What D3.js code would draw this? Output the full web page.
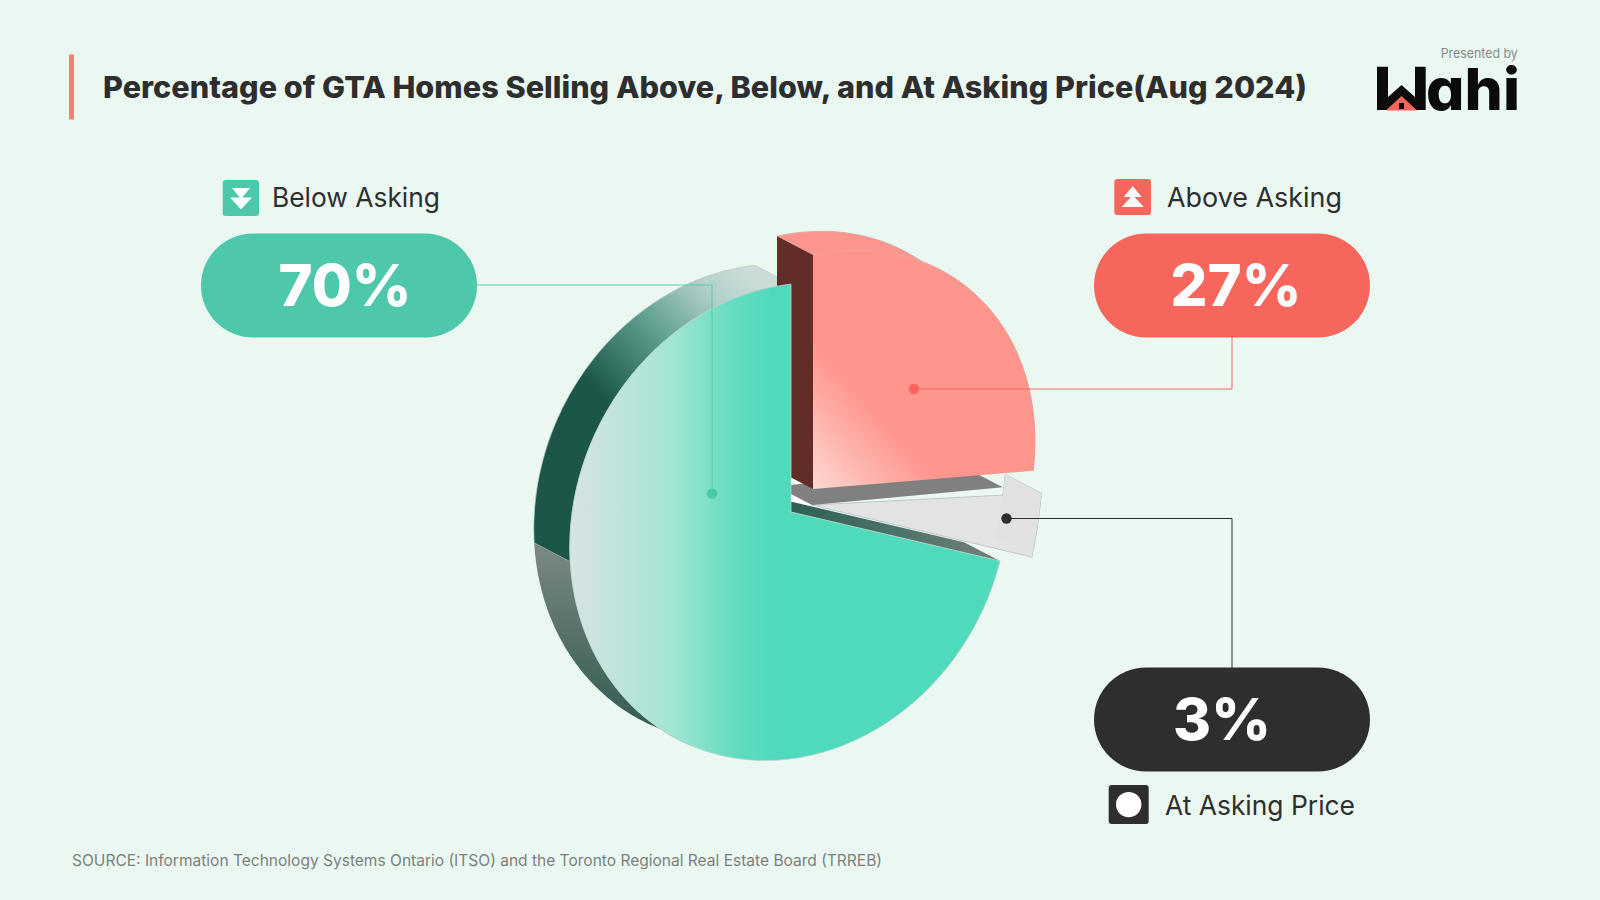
<!DOCTYPE html>
<html><head><meta charset="utf-8">
<script src="https://cdn.jsdelivr.net/npm/d3@7/dist/d3.min.js"></script>
<style>html,body{margin:0;padding:0;background:#ebf8f2}svg{display:block}text{font-family:Inter,"Noto Sans",sans-serif}</style>
</head><body><div id="chart"></div>
<script>
const titleText = "Percentage of GTA Homes Selling Above, Below, and At Asking Price(Aug 2024)";
const sourceText = "SOURCE: Information Technology Systems Ontario (ITSO) and the Toronto Regional Real Estate Board (TRREB)";
const categories = ["Above Asking", "At Asking Price", "Below Asking"];
const values = [27, 3, 70];

const svg = d3.select("#chart").append("svg").attr("width",1600).attr("height",900);
svg.append("rect").attr("width",1600).attr("height",900).attr("fill","#ebf8f2");
const defs = svg.append("defs");
function grad(id,x1,y1,x2,y2,stops){
  const g=defs.append("linearGradient").attr("id",id).attr("gradientUnits","userSpaceOnUse")
    .attr("x1",x1).attr("y1",y1).attr("x2",x2).attr("y2",y2);
  stops.forEach(s=>g.append("stop").attr("offset",s[0]).attr("stop-color",s[1]));
}
grad("gFace",570,0,772,0,[[0,"#d7e3e3"],[.5,"#a3e5d3"],[.8,"#66dcc0"],[1,"#4fdabc"]]);
grad("gWallUp",735,262,596,392,[[0,"#c9dcd8"],[.2,"#b3d0ca"],[.55,"#5f9f90"],[1,"#1b5648"]]);
grad("gWallLow",0,541,0,735,[[0,"#7c8a87"],[.5,"#567068"],[1,"#2f5c52"]]);
grad("gRadial",791,0,1000,0,[[0,"#2f5f53"],[.5,"#4c7269"],[1,"#767f7c"]]);
grad("rFace",813,489,886,422,[[0,"#ffd8d4"],[.55,"#ffb3ac"],[1,"#ff968e"]]);

// 3D projection: each slice has its own apex and face axes
const depth=[-36,-18.8];
const proj={
  "Below Asking":{o:[791,512],A:[219,-25.7],B:[0,-237],g:.009,h:.04},
  "Above Asking":{o:[813,489],A:[222,-48],B:[0,-234],g:0,h:0},
  "At Asking Price":{o:[812,505],A:[231,-54.4],B:[0,-336],g:0,h:0}
};
function P(c,r,t,back){
  const u=r*Math.sin(t),v=r*Math.cos(t),w=1+c.g*u+c.h*v;
  const d=back?1:0;
  return [c.o[0]+(c.A[0]*u+c.B[0]*v)/w+d*depth[0], c.o[1]+(c.A[1]*u+c.B[1]*v)/w+d*depth[1]];
}
const N=90;
const ang=(a,b)=>d3.range(N+1).map(i=>a+(b-a)*i/N);
const line=d3.line();
const closed=pts=>line(pts)+"Z";
const face=(c,a,b)=>closed([P(c,0,0),...ang(a,b).map(t=>P(c,1,t))]);
const band=(c,a,b)=>closed([...ang(a,b).map(t=>P(c,1,t)),...ang(b,a).map(t=>P(c,1,t,true))]);
const radial=(c,t,r=1,dt=0)=>closed([P(c,0,0),P(c,r,t+dt),P(c,r,t+dt,true),P(c,0,0,true)]);

const arcs=d3.pie().sort(null).value(d=>d)(values);
const slice=name=>arcs[categories.indexOf(name)];
const G=proj["Below Asking"],R=proj["Above Asking"],S=proj["At Asking Price"];
const ga=slice("Below Asking"),ra=slice("Above Asking"),sa=slice("At Asking Price");
const pie=svg.append("g");
const rim="#b7c8c3";
const rad=d=>d*Math.PI/180;
const split=rad(264.3);
// green outer wall
pie.append("path").attr("d",band(G,split,ga.endAngle)).attr("fill","url(#gWallUp)").attr("stroke",rim).attr("stroke-width",.7);
pie.append("path").attr("d",band(G,rad(205),split)).attr("fill","url(#gWallLow)");
// white core behind the slices
pie.append("path").attr("d",closed([P(R,0,0,true),P(R,0,0),P(S,0,0),P(G,0,0)])).attr("fill","#ffffff");
// green radial wall
pie.append("path").attr("d",radial(G,ga.startAngle)).attr("fill","url(#gRadial)");
// grey slice
pie.append("path").attr("d",band(S,sa.startAngle,sa.endAngle)).attr("fill","#e1e1e2").attr("stroke","#b4bfbe").attr("stroke-width",1);
pie.append("path").attr("d",face(S,sa.startAngle,sa.endAngle)).attr("fill","#e3e3e4").attr("stroke","#b4bfbe").attr("stroke-width",.8);
pie.append("path").attr("d",band(S,sa.startAngle,sa.endAngle)).attr("fill","#e1e1e2");
pie.append("path").attr("d",radial(S,sa.startAngle,.83,-rad(1.6))).attr("fill","#808080");
// red slice
pie.append("path").attr("d",band(R,ra.startAngle,ra.endAngle)).attr("fill","#ff968e").attr("stroke","#c9a9a4").attr("stroke-width",.8);
pie.append("path").attr("d",radial(R,ra.startAngle)).attr("fill","#622c28");
pie.append("path").attr("d",face(R,ra.startAngle,ra.endAngle)).attr("fill","url(#rFace)");
// green face
pie.append("path").attr("d",face(G,ga.startAngle,ga.endAngle)).attr("fill","url(#gFace)").attr("stroke","#b7d3cb").attr("stroke-width",.8);

// callouts
const pills={"Below Asking":{x:201,y:233.5,fill:"#4ec8aa",tx:345,line:[[477,285],[712,285],[712,493.5]],lc:"#4fcdae",dot:"#4cc9a9"},
 "Above Asking":{x:1094,y:233.5,fill:"#f6665c",tx:1236,line:[[914,389],[1232,389],[1232,337]],lc:"#f6665c",dot:"#f6665c"},
 "At Asking Price":{x:1094,y:667.5,fill:"#2e2e2e",tx:1222,line:[[1006.5,518.5],[1232,518.5],[1232,668]],lc:"#2e2e2e",dot:"#2e2e2e"}};
categories.forEach((c,i)=>{
  const p=pills[c];
  svg.append("path").attr("d",line(p.line)).attr("fill","none").attr("stroke",p.lc).attr("stroke-width",1);
  const e=c==="Above Asking"?p.line[0]:c==="At Asking Price"?p.line[0]:p.line[2];
  svg.append("circle").attr("cx",e[0]).attr("cy",e[1]).attr("r",5.2).attr("fill",p.dot);
  svg.append("rect").attr("x",p.x).attr("y",p.y).attr("width",276).attr("height",104).attr("rx",52).attr("fill",p.fill);
  svg.append("text").attr("x",p.tx).attr("y",p.y+72.5).attr("text-anchor","middle").attr("fill","#fff")
    .attr("font-size",58).attr("font-weight",800).text(values[i]+"%");
});

// legend labels + icons
function label(t,x,y,w){svg.append("text").attr("x",x).attr("y",y).attr("font-size",27).attr("fill","#2e2e2e")
  .attr("textLength",w).attr("lengthAdjust","spacingAndGlyphs").text(t);}
label(categories[2],272,206.7,168);
label(categories[0],1167,206.7,175);
label(categories[1],1165,815,190);
const tri=(cx,y0,w,h)=>closed([[cx-w/2,y0],[cx+w/2,y0],[cx,y0+h]]);
svg.append("rect").attr("x",222.7).attr("y",180).attr("width",36.3).attr("height",36).attr("rx",3).attr("fill","#4ec8aa");
svg.append("path").attr("d",tri(241,188,18,11)).attr("fill","#fff");
svg.append("path").attr("d",tri(241,197.5,22,12)).attr("fill","#fff").attr("stroke","#4ec8aa").attr("stroke-width",0);
svg.append("rect").attr("x",1114.3).attr("y",179).attr("width",36.7).attr("height",36).attr("rx",3).attr("fill","#f6665c");
svg.append("path").attr("d",tri(1132.7,197,18,-11)).attr("fill","#fff");
svg.append("path").attr("d",tri(1132.7,207,22,-12)).attr("fill","#fff");
svg.append("rect").attr("x",1108.7).attr("y",785).attr("width",40).attr("height",39).attr("rx",3).attr("fill","#2e2e2e");
svg.append("circle").attr("cx",1128.7).attr("cy",804.6).attr("r",12.7).attr("fill","#fff");

// header
svg.append("rect").attr("x",69).attr("y",54.5).attr("width",5).attr("height",65).attr("fill","#fb7f76");
svg.append("text").attr("x",103).attr("y",98).attr("font-size",30).attr("font-weight",800).attr("fill","#2e2e2e")
  .attr("textLength",1204).attr("lengthAdjust","spacingAndGlyphs").text(titleText);
svg.append("text").attr("x",72).attr("y",866).attr("font-size",16).attr("fill","#7b807e")
  .attr("textLength",810).attr("lengthAdjust","spacingAndGlyphs").text(sourceText);

// logo
svg.append("text").attr("x",1440.7).attr("y",57.5).attr("font-size",13).attr("fill","#858a88")
  .attr("textLength",77).attr("lengthAdjust","spacingAndGlyphs").text("Presented by");
const W=[[1377,66.7],[1388,66.7],[1388,97],[1401.5,85],[1415,97],[1415,66.7],[1425.7,66.7],[1425.7,110],[1416,110],[1401.5,97],[1387,110],[1377,110]];
svg.append("path").attr("d",closed(W)).attr("fill","#0b0b0b");
svg.append("path").attr("d",closed([[1386,110.5],[1401.5,96],[1417,110.5]])).attr("fill","#f6665c");
svg.append("rect").attr("x",1399).attr("y",103).attr("width",5).attr("height",6).attr("fill","#0b0b0b");
svg.append("text").attr("x",1426).attr("y",110).attr("font-size",58).attr("font-weight",800).attr("fill","#0b0b0b")
  .style("font-feature-settings","'cv11'").attr("textLength",94).attr("lengthAdjust","spacingAndGlyphs").text("ahi");
</script></body></html>
